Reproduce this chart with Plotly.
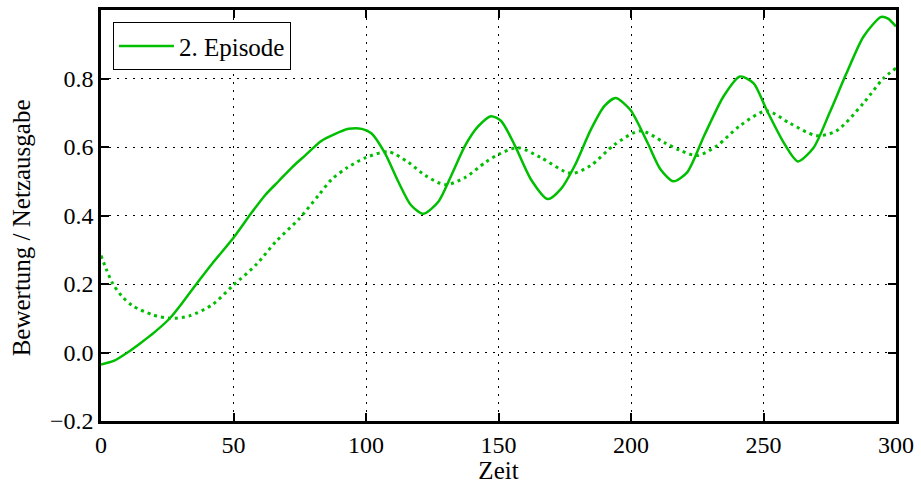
import plotly.graph_objects as go

# Episode 2: rating (solid) and network output (dotted) over time
zeit_bewertung = [0, 5, 10, 15, 20, 26, 31, 36, 42, 50, 57, 62, 67, 72, 77, 83, 88, 93.5, 98.4,
                  102, 107, 112.3, 117, 121.7, 127.3, 132.2, 137.4, 142.3, 147.2, 151, 156.2,
                  162.2, 168.6, 173.5, 178.8, 184.8, 190, 194.2, 199.8, 206.2, 211.1, 216,
                  221.2, 227.6, 235, 241.1, 246.3, 251.2, 257.6, 262.9, 268.9, 274.9, 281.3,
                  287.7, 294.4, 297, 300]
bewertung = [-0.035, -0.024, 0.0, 0.028, 0.058, 0.10, 0.148, 0.2, 0.26, 0.335, 0.41, 0.46,
             0.50, 0.54, 0.575, 0.617, 0.637, 0.653, 0.653,
             0.64, 0.584, 0.497, 0.43, 0.405, 0.44, 0.517, 0.604, 0.66, 0.69, 0.676, 0.604,
             0.506, 0.448, 0.477, 0.546, 0.65, 0.72, 0.743, 0.708, 0.613, 0.535, 0.5,
             0.526, 0.633, 0.749, 0.806, 0.786, 0.708, 0.613, 0.558, 0.598, 0.699, 0.815,
             0.922, 0.98, 0.975, 0.952]

zeit_netz = [0, 2, 4.5, 8, 12, 19.5, 26, 33.4, 42.1, 49.6, 58.6, 66, 74.7, 82.2, 87.1, 93, 99.9,
             108.5, 116, 122.4, 129.9, 137.4, 145, 149.9, 157.4, 166, 177.3, 184.8, 193.8,
             203.6, 212.6, 218.6, 225, 232.5, 241.1, 251.2, 259.8, 270, 277.5, 287.7,
             295.2, 300]
netzausgabe = [0.283, 0.243, 0.2, 0.163, 0.136, 0.11, 0.1, 0.107, 0.14, 0.194, 0.257, 0.324,
               0.39, 0.46, 0.506, 0.54, 0.569, 0.586, 0.555, 0.517, 0.49, 0.511, 0.555, 0.578,
               0.598, 0.569, 0.523, 0.546, 0.607, 0.647, 0.613, 0.59, 0.575, 0.604, 0.662,
               0.705, 0.67, 0.633, 0.647, 0.728, 0.8, 0.83]

x_ticks = [0, 50, 100, 150, 200, 250, 300]
y_ticks = [-0.2, 0.0, 0.2, 0.4, 0.6, 0.8]
y_ticklabels = ["\u22120.2", "0.0", "0.2", "0.4", "0.6", "0.8"]

GREEN = "#00bf00"
FONT = "Liberation Serif, Times New Roman, DejaVu Serif, serif"

fig = go.Figure()
fig.add_trace(go.Scatter(
    x=zeit_bewertung, y=bewertung, mode="lines", name="2. Episode",
    line=dict(color=GREEN, width=2.5, shape="spline", smoothing=0.7),
))
fig.add_trace(go.Scatter(
    x=zeit_netz, y=netzausgabe, mode="lines", showlegend=False,
    line=dict(color=GREEN, width=3, dash="3px,4px", shape="spline", smoothing=0.8),
))

axis_common = dict(
    showline=True, linecolor="black", linewidth=2.5, mirror="allticks",
    ticks="inside", ticklen=8, tickwidth=1.5, tickcolor="black",
    showgrid=True, gridcolor="black", gridwidth=1.3, griddash="2px,6px",
    zeroline=False, tickfont=dict(family=FONT, size=24, color="black"),
)

fig.update_xaxes(range=[0, 300], tickvals=x_ticks,
                 title=dict(text="Zeit", font=dict(family=FONT, size=25, color="black"), standoff=2),
                 **axis_common)
fig.update_yaxes(range=[-0.2, 1.0], tickvals=y_ticks, ticktext=y_ticklabels, **axis_common)

# y-axis title placed as an annotation so it can sit slightly below centre
fig.add_annotation(
    text="Bewertung / Netzausgabe", textangle=-90,
    xref="paper", yref="paper", x=-0.1, y=0.47, xanchor="center", yanchor="middle",
    showarrow=False, font=dict(family=FONT, size=25, color="black"),
)

fig.update_layout(
    width=921, height=484,
    margin=dict(l=101, r=21, t=7, b=63),
    paper_bgcolor="white", plot_bgcolor="white",
    legend=dict(x=0.015, y=0.97, xanchor="left", yanchor="top",
                bgcolor="white", bordercolor="black", borderwidth=1, itemwidth=55,
                font=dict(family=FONT, size=25, color="black")),
)

fig.write_html("out.html")
